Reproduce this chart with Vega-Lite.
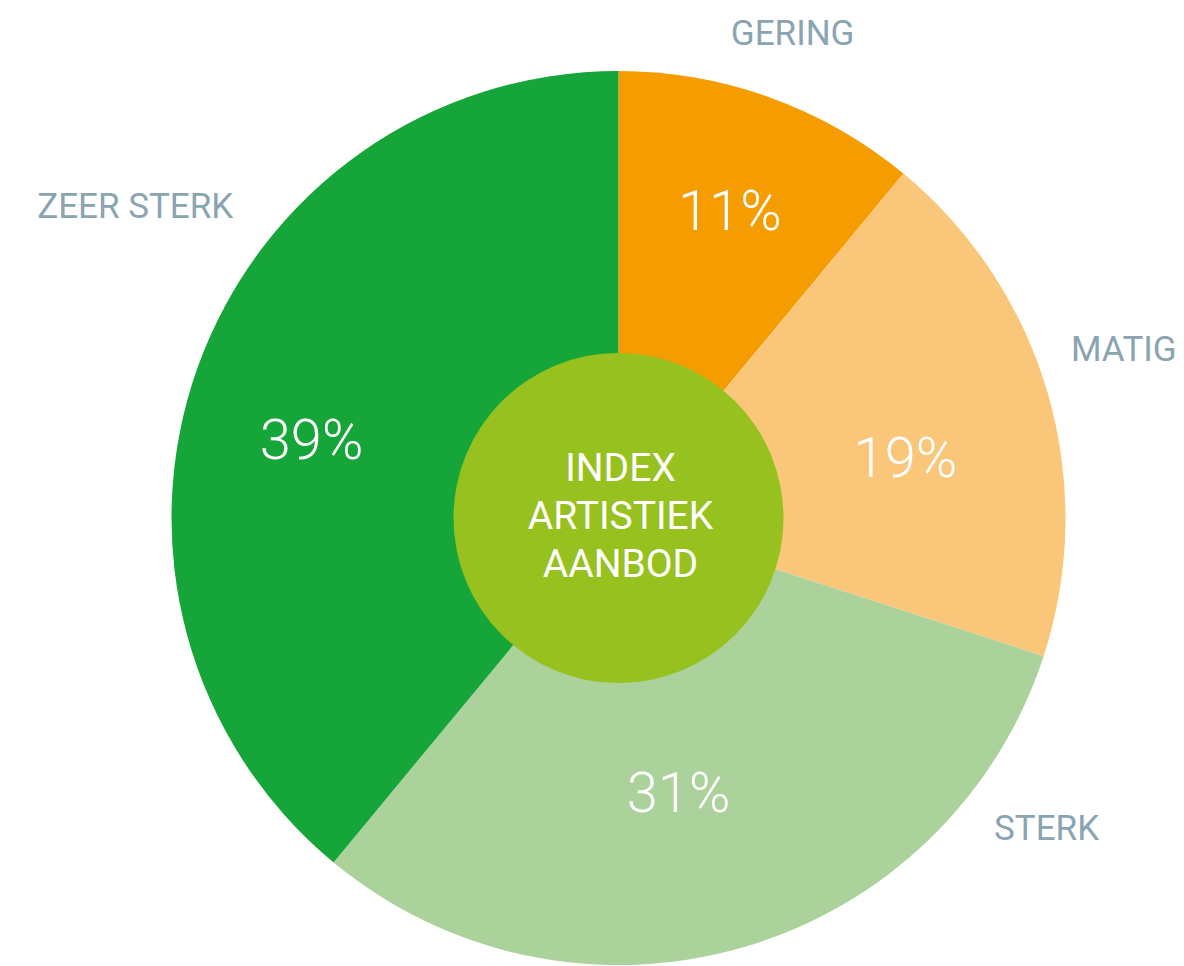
{
  "$schema": "https://vega.github.io/schema/vega-lite/v6.json",
  "autosize": "none",
  "width": 1131,
  "height": 896,
  "padding": {"left": 53, "top": 70, "right": 0, "bottom": 0},
  "background": "white",
  "config": {"view": {"stroke": null}},
  "layer": [
    {
      "data": {
        "values": [
          {"cat": "GERING", "value": 11, "pct": "11%", "i": 1},
          {"cat": "MATIG", "value": 19, "pct": "19%", "i": 2},
          {"cat": "STERK", "value": 31, "pct": "31%", "i": 3},
          {"cat": "ZEER STERK", "value": 39, "pct": "39%", "i": 4}
        ]
      },
      "encoding": {
        "theta": {"field": "value", "type": "quantitative", "stack": true},
        "order": {"field": "i", "type": "quantitative"}
      },
      "layer": [
        {
          "mark": {"type": "arc", "outerRadius": 447},
          "encoding": {
            "color": {
              "field": "cat",
              "type": "nominal",
              "scale": {
                "domain": ["GERING", "MATIG", "STERK", "ZEER STERK"],
                "range": ["#F59D00", "#FAC679", "#ABD29B", "#16A538"]
              },
              "legend": null
            }
          }
        },
        {
          "mark": {"type": "text", "radius": 305, "font": "Roboto", "fontWeight": 300, "fontSize": 56, "fill": "white", "align": "center", "baseline": "alphabetic", "dx": 8, "dy": -1},
          "encoding": {"text": {"condition": {"test": "datum.cat === 'GERING'", "field": "pct"}, "value": ""}}
        },
        {
          "mark": {"type": "text", "radius": 305, "font": "Roboto", "fontWeight": 300, "fontSize": 56, "fill": "white", "align": "center", "baseline": "alphabetic", "dx": -6, "dy": 44},
          "encoding": {"text": {"condition": {"test": "datum.cat === 'MATIG'", "field": "pct"}, "value": ""}}
        },
        {
          "mark": {"type": "text", "radius": 305, "font": "Roboto", "fontWeight": 300, "fontSize": 56, "fill": "white", "align": "center", "baseline": "alphabetic", "dx": -25, "dy": 1},
          "encoding": {"text": {"condition": {"test": "datum.cat === 'STERK'", "field": "pct"}, "value": ""}}
        },
        {
          "mark": {"type": "text", "radius": 305, "font": "Roboto", "fontWeight": 300, "fontSize": 56, "fill": "white", "align": "center", "baseline": "alphabetic", "dx": -20, "dy": 44},
          "encoding": {"text": {"condition": {"test": "datum.cat === 'ZEER STERK'", "field": "pct"}, "value": ""}}
        },
        {
          "mark": {"type": "text", "radius": 520, "font": "Roboto", "fontSize": 35, "fill": "#8AA4B2", "align": "center", "baseline": "alphabetic", "dx": -2, "dy": 16},
          "encoding": {"text": {"condition": {"test": "datum.cat === 'GERING'", "field": "cat"}, "value": ""}}
        },
        {
          "mark": {"type": "text", "radius": 520, "font": "Roboto", "fontSize": 35, "fill": "#8AA4B2", "align": "center", "baseline": "alphabetic", "dx": 6, "dy": -12},
          "encoding": {"text": {"condition": {"test": "datum.cat === 'MATIG'", "field": "cat"}, "value": ""}}
        },
        {
          "mark": {"type": "text", "radius": 520, "font": "Roboto", "fontSize": 35, "fill": "#8AA4B2", "align": "center", "baseline": "alphabetic", "dx": 283, "dy": -177},
          "encoding": {"text": {"condition": {"test": "datum.cat === 'STERK'", "field": "cat"}, "value": ""}}
        },
        {
          "mark": {"type": "text", "radius": 520, "font": "Roboto", "fontSize": 35, "fill": "#8AA4B2", "align": "center", "baseline": "alphabetic", "dx": 6, "dy": -124},
          "encoding": {"text": {"condition": {"test": "datum.cat === 'ZEER STERK'", "field": "cat"}, "value": ""}}
        }
      ]
    },
    {
      "data": {"values": [{"label": ["INDEX", "ARTISTIEK", "AANBOD"]}]},
      "layer": [
        {
          "mark": {"type": "point", "shape": "circle", "filled": true, "size": 108900, "color": "#97C11F", "opacity": 1, "strokeWidth": 0},
          "encoding": {}
        },
        {
          "mark": {"type": "text", "font": "Roboto", "fontSize": 39, "fill": "white", "align": "center", "baseline": "middle", "lineHeight": 48, "dx": 2, "dy": -49},
          "encoding": {"text": {"field": "label"}}
        }
      ]
    }
  ]
}
